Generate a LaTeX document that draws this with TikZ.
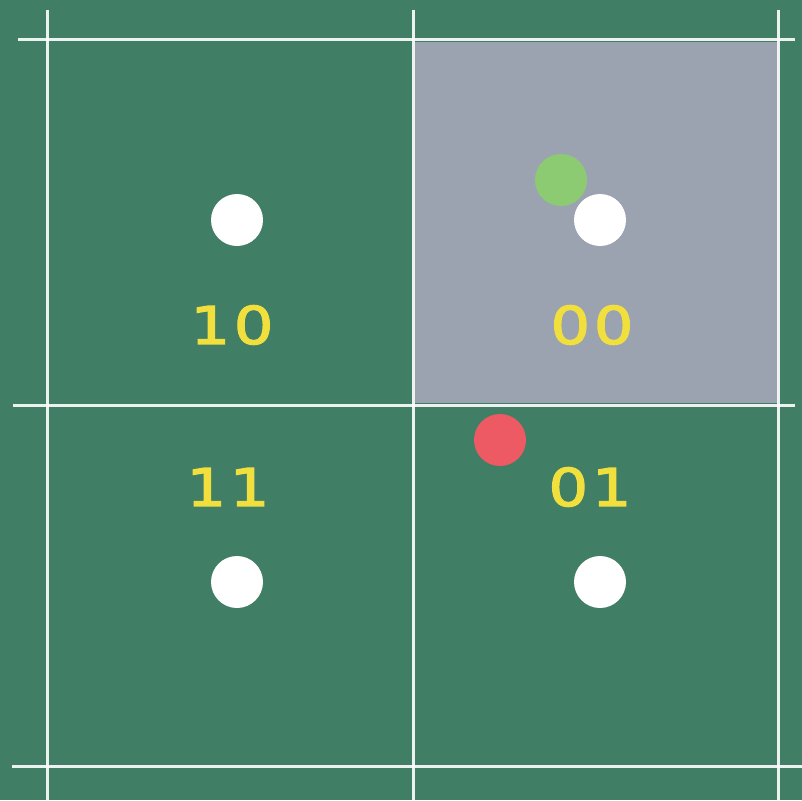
\documentclass[tikz,border=0pt]{standalone}
\usepackage{fontspec}
\setmainfont{Poppins}
\newfontfamily\chalkfont[FakeStretch=1.2,FakeBold=2.5,LetterSpace=7]{DejaVu Sans}
\definecolor{board}{HTML}{417E66}
\definecolor{cellgray}{HTML}{9BA3B0}
\definecolor{chalkyellow}{HTML}{F0DF3C}
\definecolor{dotgreen}{HTML}{8DCB72}
\definecolor{dotred}{HTML}{EE5A63}
\tikzset{
  chalk/.style={draw=white, line width=3pt, opacity=0.9},
  dot/.style={circle, fill=white, minimum size=52pt, inner sep=0pt},
  lbl/.style={text=chalkyellow, font=\chalkfont\fontsize{52}{52}\selectfont}
}
\begin{document}
\begin{tikzpicture}[x=1pt,y=-1pt]
\fill[board] (0,0) rectangle (802,800);
\useasboundingbox (0,0) rectangle (802,800);
\fill[cellgray] (415,42) rectangle (778,403);
% grid lines
\coordinate (h1a) at (18,40);  \coordinate (h1b) at (795,40);
\coordinate (h2a) at (13,405); \coordinate (h2b) at (795,405);
\coordinate (h3a) at (12,766); \coordinate (h3b) at (802,766);
\coordinate (v1a) at (47,10);  \coordinate (v1b) at (47,800);
\coordinate (v2a) at (413,10); \coordinate (v2b) at (413,800);
\coordinate (v3a) at (778,10); \coordinate (v3b) at (778,800);
\draw[chalk] (h1a) -- (h1b);
\draw[chalk] (h2a) -- (h2b);
\draw[chalk] (h3a) -- (h3b);
\draw[chalk] (v1a) -- (v1b);
\draw[chalk] (v2a) -- (v2b);
\draw[chalk] (v3a) -- (v3b);
% dots
\node[dot] (w10) at (237,220) {};
\node[dot] (w00) at (600,220) {};
\node[dot] (w11) at (237,582) {};
\node[dot] (w01) at (600,582) {};
\node[dot, fill=dotgreen] (g) at (561,180) {};
\node[dot, fill=dotred] (r) at (500,440) {};
% labels
\node[lbl] (l10) at (232,325) {10};
\node[lbl] (l00) at (592,325) {00};
\node[lbl] (l11) at (228,487) {11};
\node[lbl] (l01) at (590,487) {01};
\end{tikzpicture}
\end{document}
